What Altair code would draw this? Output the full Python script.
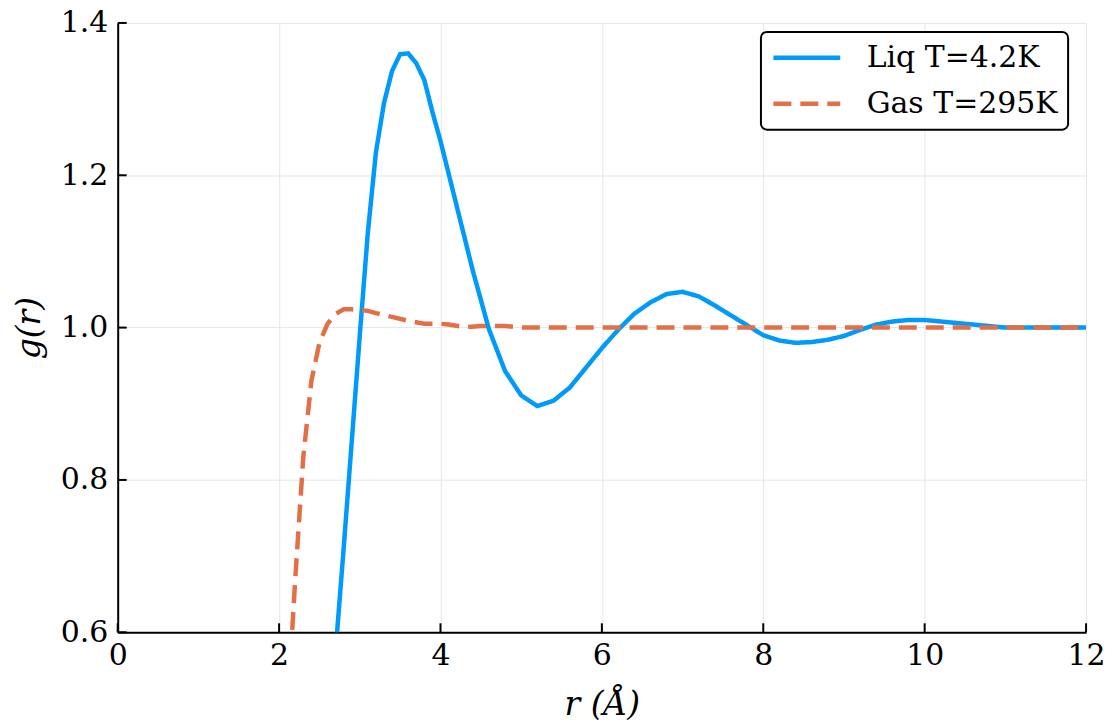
import altair as alt
import pandas as pd

# ---- data ----
r_liq = [2.4, 2.5, 2.6, 2.7, 2.8, 2.9, 3.0, 3.1, 3.2, 3.3, 3.4, 3.5, 3.6, 3.7, 3.8, 3.9,
         4.0, 4.2, 4.4, 4.6, 4.8, 5.0, 5.2, 5.4, 5.6, 5.8, 6.0, 6.2, 6.4, 6.6, 6.8, 7.0,
         7.2, 7.4, 7.6, 7.8, 8.0, 8.2, 8.4, 8.6, 8.8, 9.0, 9.2, 9.4, 9.6, 9.8, 10.0, 10.2,
         10.4, 10.6, 10.8, 11.0, 11.2, 11.4, 11.6, 11.8, 12.0]
g_liq = [0.17, 0.30, 0.44, 0.575, 0.71, 0.85, 0.99, 1.125, 1.23, 1.295, 1.337, 1.359, 1.36,
         1.347, 1.325, 1.283, 1.245, 1.16, 1.075, 0.998, 0.943, 0.911, 0.897, 0.904, 0.921,
         0.947, 0.973, 0.997, 1.018, 1.033, 1.044, 1.047, 1.041, 1.029, 1.016, 1.003, 0.990,
         0.983, 0.980, 0.981, 0.984, 0.989, 0.997, 1.004, 1.008, 1.010, 1.010, 1.008, 1.006,
         1.004, 1.002, 1.000, 1.000, 1.000, 1.000, 1.000, 1.000]

r_gas = [2.0, 2.1, 2.2, 2.3, 2.4, 2.5, 2.6, 2.7, 2.8, 2.9, 3.0, 3.1, 3.2, 3.4, 3.6, 3.8,
         4.0, 4.1, 4.3, 4.5, 4.8, 5.0, 5.2, 5.4, 5.6, 5.8, 6.0, 6.2, 6.4, 6.6, 6.8, 7.0,
         7.2, 7.4, 7.6, 7.8, 8.0, 8.2, 8.4, 8.6, 8.8, 9.0, 9.2, 9.4, 9.6, 9.8, 10.0, 10.2,
         10.4, 10.6, 10.8, 11.0, 11.2, 11.4, 11.6, 11.8, 12.0]
g_gas = [0.25, 0.49, 0.67, 0.83, 0.93, 0.98, 1.005, 1.018, 1.024, 1.024, 1.023, 1.022,
         1.019, 1.014, 1.009, 1.005, 1.005, 1.004, 1.0005, 1.002, 1.002, 1.0, 1.0, 1.0,
         1.0, 1.0, 1.0, 1.0, 1.0, 1.0, 1.0, 1.0, 1.0, 1.0, 1.0, 1.0, 1.0, 1.0, 1.0, 1.0,
         1.0, 1.0, 1.0, 1.0, 1.0, 1.0, 1.0, 1.0, 1.0, 1.0, 1.0, 1.0, 1.0, 1.0, 1.0, 1.0, 1.0]

series_names = ["Liq T=4.2K", "Gas T=295K"]
series_colors = ["#009AFA", "#E36F47"]
series_dashes = [[1, 0], [18, 9]]

x_ticks = [0, 2, 4, 6, 8, 10, 12]
y_ticks = [0.6, 0.8, 1.0, 1.2, 1.4]

W, H = 971, 611
FONT = "DejaVu Serif"

df = pd.concat([
    pd.DataFrame({"r": r_liq, "g": g_liq, "series": series_names[0]}),
    pd.DataFrame({"r": r_gas, "g": g_gas, "series": series_names[1]}),
])

x_enc = alt.X("r:Q", scale=alt.Scale(domain=[0, 12], nice=False, zero=False),
              axis=alt.Axis(values=x_ticks, title="r (Å)", format="d"))
y_enc = alt.Y("g:Q", scale=alt.Scale(domain=[0.6, 1.4], nice=False, zero=False),
              axis=alt.Axis(values=y_ticks, title="g(r)", format=".1f"))

leg = alt.Legend(title=None, orient="none", legendX=645, legendY=9)

lines = alt.Chart(df).mark_line(clip=True, strokeWidth=4.5).encode(
    x=x_enc,
    y=y_enc,
    color=alt.Color("series:N", scale=alt.Scale(domain=series_names, range=series_colors),
                    sort=series_names, legend=leg),
    strokeDash=alt.StrokeDash("series:N", scale=alt.Scale(domain=series_names, range=series_dashes),
                              sort=series_names, legend=leg),
)

xt = alt.Chart(pd.DataFrame({"r": x_ticks})).mark_rule(color="black", strokeWidth=2).encode(
    x=x_enc, y=alt.value(H - 9), y2=alt.value(H))
yt = alt.Chart(pd.DataFrame({"g": y_ticks})).mark_rule(color="black", strokeWidth=2).encode(
    y=y_enc, x=alt.value(0), x2=alt.value(9))

chart = alt.layer(lines, xt, yt).properties(
    width=W, height=H,
    autosize="none",
    padding={"left": 110, "top": 14, "right": 20, "bottom": 90},
).configure_view(strokeWidth=0).configure_axis(
    grid=True, gridColor="#e6e6e6", gridWidth=1,
    domainColor="black", domainWidth=2,
    ticks=False,
    labelFont=FONT, labelFontSize=30, labelColor="black",
    labelFlush=False, labelOverlap=False,
    titleFont=FONT, titleFontSize=33, titleFontStyle="italic", titleFontWeight="normal",
    titleColor="black",
).configure_axisX(
    labelPadding=8, titlePadding=18,
).configure_axisY(
    labelPadding=10, titlePadding=14,
).configure_legend(
    labelFont=FONT, labelFontSize=30, labelColor="black", labelLimit=0,
    symbolType="stroke", symbolSize=4489, symbolStrokeWidth=4.5,
    labelOffset=24, rowPadding=14, padding=10, clipHeight=32,
    strokeColor="black", strokeWidth=2, fillColor="white", cornerRadius=6,
)

chart.save("out.html", embed_options={"renderer": "svg", "actions": False})
